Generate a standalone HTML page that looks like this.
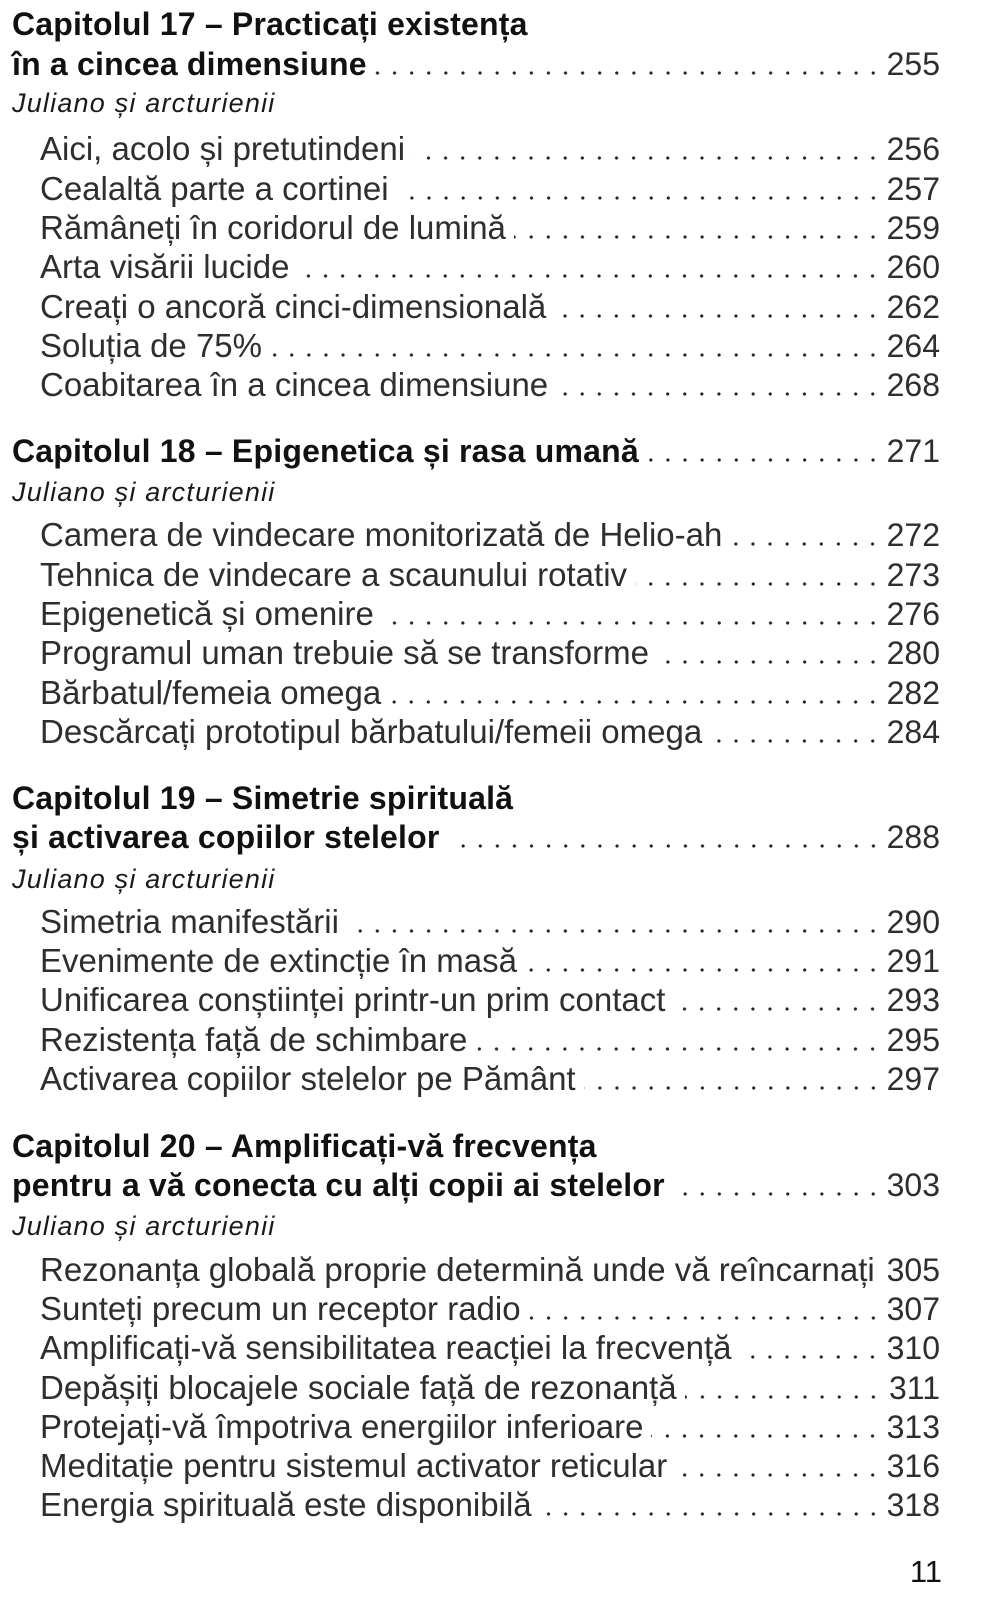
<!DOCTYPE html>
<html>
<head>
<meta charset="utf-8">
<style>
html,body{margin:0;padding:0;background:#fff;}
body{width:989px;height:1600px;position:relative;overflow:hidden;font-family:"Liberation Sans",Arial,sans-serif;}
.r{position:absolute;left:0;width:989px;height:40px;display:flex;line-height:40px;white-space:nowrap;box-sizing:border-box;padding-right:49px;}
.t{flex:none;}
.h .t{font-weight:bold;font-size:32px;padding-left:12px;letter-spacing:0.2px;color:#111;}
.i .t{font-size:33px;padding-left:40px;color:#2e2e2e;}
.j .t{font-style:italic;font-size:27px;letter-spacing:1.2px;padding-left:12px;color:#1a1a1a;}
.l{flex:1;margin-left:8px;background:radial-gradient(circle at 50% 29px,#222 0,#222 1.3px,rgba(0,0,0,0) 1.9px) right top/17.1px 40px repeat-x;}
.sp{flex:1;}
.n{flex:none;width:58.5px;text-align:right;font-size:32px;color:#2e2e2e;}
.pg{position:absolute;right:47px;top:1552px;font-size:31px;line-height:40px;color:#111;}
</style>
</head>
<body>

<!-- Chapter 17 -->
<div class="r h" style="top:4.2px"><span class="t">Capitolul 17 – Practicați existența</span></div>
<div class="r h" style="top:44.1px"><span class="t">în a cincea dimensiune</span><span class="l"></span><span class="n">255</span></div>
<div class="r j" style="top:83.1px"><span class="t">Juliano și arcturienii</span></div>
<div class="r i" style="top:129.4px"><span class="t">Aici, acolo și pretutindeni</span><span class="l"></span><span class="n">256</span></div>
<div class="r i" style="top:168.7px"><span class="t">Cealaltă parte a cortinei</span><span class="l"></span><span class="n">257</span></div>
<div class="r i" style="top:207.9px"><span class="t">Rămâneți în coridorul de lumină</span><span class="l"></span><span class="n">259</span></div>
<div class="r i" style="top:247.2px"><span class="t">Arta visării lucide</span><span class="l"></span><span class="n">260</span></div>
<div class="r i" style="top:286.5px"><span class="t">Creați o ancoră cinci-dimensională</span><span class="l"></span><span class="n">262</span></div>
<div class="r i" style="top:325.8px"><span class="t">Soluția de 75%</span><span class="l"></span><span class="n">264</span></div>
<div class="r i" style="top:365px"><span class="t">Coabitarea în a cincea dimensiune</span><span class="l"></span><span class="n">268</span></div>

<!-- Chapter 18 -->
<div class="r h" style="top:430.9px"><span class="t">Capitolul 18 – Epigenetica și rasa umană</span><span class="l"></span><span class="n">271</span></div>
<div class="r j" style="top:472.1px"><span class="t">Juliano și arcturienii</span></div>
<div class="r i" style="top:515.1px"><span class="t">Camera de vindecare monitorizată de Helio-ah</span><span class="l"></span><span class="n">272</span></div>
<div class="r i" style="top:554.5px"><span class="t">Tehnica de vindecare a scaunului rotativ</span><span class="l"></span><span class="n">273</span></div>
<div class="r i" style="top:593.9px"><span class="t">Epigenetică și omenire</span><span class="l"></span><span class="n">276</span></div>
<div class="r i" style="top:633.3px"><span class="t">Programul uman trebuie să se transforme</span><span class="l"></span><span class="n">280</span></div>
<div class="r i" style="top:672.7px"><span class="t">Bărbatul/femeia omega</span><span class="l"></span><span class="n">282</span></div>
<div class="r i" style="top:712.1px"><span class="t">Descărcați prototipul bărbatului/femeii omega</span><span class="l"></span><span class="n">284</span></div>

<!-- Chapter 19 -->
<div class="r h" style="top:777.9px"><span class="t">Capitolul 19 – Simetrie spirituală</span></div>
<div class="r h" style="top:816.7px"><span class="t">și activarea copiilor stelelor</span><span class="l"></span><span class="n">288</span></div>
<div class="r j" style="top:858.6px"><span class="t">Juliano și arcturienii</span></div>
<div class="r i" style="top:901.8px"><span class="t">Simetria manifestării</span><span class="l"></span><span class="n">290</span></div>
<div class="r i" style="top:941.1px"><span class="t">Evenimente de extincție în masă</span><span class="l"></span><span class="n">291</span></div>
<div class="r i" style="top:980.4px"><span class="t">Unificarea conștiinței printr-un prim contact</span><span class="l"></span><span class="n">293</span></div>
<div class="r i" style="top:1019.7px"><span class="t">Rezistența față de schimbare</span><span class="l"></span><span class="n">295</span></div>
<div class="r i" style="top:1059px"><span class="t">Activarea copiilor stelelor pe Pământ</span><span class="l"></span><span class="n">297</span></div>

<!-- Chapter 20 -->
<div class="r h" style="top:1125.9px"><span class="t">Capitolul 20 – Amplificați-vă frecvența</span></div>
<div class="r h" style="top:1164.7px"><span class="t">pentru a vă conecta cu alți copii ai stelelor</span><span class="l"></span><span class="n">303</span></div>
<div class="r j" style="top:1205.6px"><span class="t">Juliano și arcturienii</span></div>
<div class="r i" style="top:1249.8px"><span class="t">Rezonanța globală proprie determină unde vă reîncarnați</span><span class="sp"></span><span class="n">305</span></div>
<div class="r i" style="top:1289.1px"><span class="t">Sunteți precum un receptor radio</span><span class="l"></span><span class="n">307</span></div>
<div class="r i" style="top:1328.3px"><span class="t">Amplificați-vă sensibilitatea reacției la frecvență</span><span class="l"></span><span class="n">310</span></div>
<div class="r i" style="top:1367.6px"><span class="t">Depășiți blocajele sociale față de rezonanță</span><span class="l"></span><span class="n">311</span></div>
<div class="r i" style="top:1406.9px"><span class="t">Protejați-vă împotriva energiilor inferioare</span><span class="l"></span><span class="n">313</span></div>
<div class="r i" style="top:1446.2px"><span class="t">Meditație pentru sistemul activator reticular</span><span class="l"></span><span class="n">316</span></div>
<div class="r i" style="top:1485.4px"><span class="t">Energia spirituală este disponibilă</span><span class="l"></span><span class="n">318</span></div>

<div class="pg">11</div>

</body>
</html>
